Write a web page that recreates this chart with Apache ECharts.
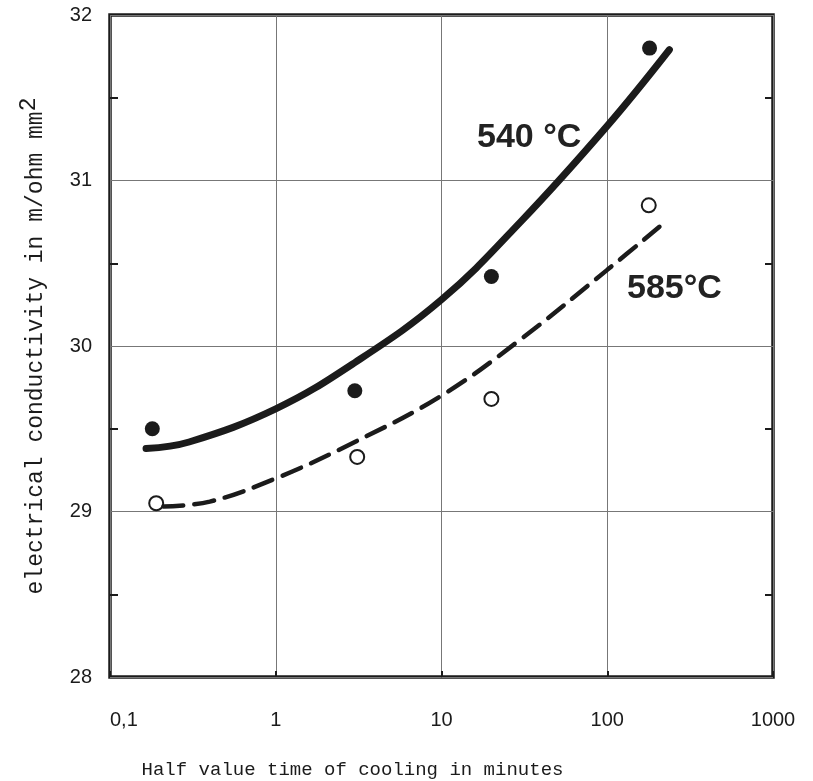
<!DOCTYPE html>
<html>
<head>
<meta charset="utf-8">
<script src="https://cdn.jsdelivr.net/npm/echarts@6/dist/echarts.min.js"></script>
<style>
  html, body { margin: 0; padding: 0; background: #fff; }
  #chart { width: 813px; height: 781px; }
</style>
</head>
<body>
<div id="chart"></div>
<script>
// measured points (half value time in minutes, conductivity)
const timesFilled = [0.18, 3, 20, 180];
const cond540 = [29.5, 29.73, 30.42, 31.8];
const timesOpen = [0.19, 3.1, 20, 178];
const cond585 = [29.05, 29.33, 29.68, 30.85];

// fitted curves as drawn
const curve540Times = [0.165, 0.3, 1, 3, 10, 30, 100, 237];
const curve540Values = [29.38, 29.42, 29.62, 29.9, 30.28, 30.75, 31.33, 31.79];
const curve585Times = [0.21, 0.4, 1, 3, 10, 30, 100, 224];
const curve585Values = [29.03, 29.06, 29.2, 29.42, 29.7, 30.04, 30.46, 30.75];

const yTicks = [28, 29, 30, 31, 32];

function pairs(xs, ys) {
  return xs.map((x, i) => [x, ys[i]]);
}

const chart = echarts.init(document.getElementById("chart"));
const ink = "#1b1b1b";

const option = {
  backgroundColor: "#fff",
  animation: false,
  grid: {
    left: 110, top: 15, right: 40, bottom: 104,
    outerBoundsMode: "none",
    show: true, borderColor: ink, borderWidth: 3.5
  },
  xAxis: {
    type: "log", logBase: 10, min: 0.1, max: 1000,
    axisLine: { show: false },
    axisTick: { show: true, inside: true, length: 6, lineStyle: { color: ink, width: 2 } },
    splitLine: { show: true, lineStyle: { color: "#777", width: 1 } },
    axisLabel: {
      margin: 33, fontFamily: "Liberation Sans", fontSize: 20, color: ink,
      alignMinLabel: "left",
      formatter: v => (v < 0.5 ? "0,1" : String(Math.round(v)))
    },
    name: "Half value time of cooling in minutes",
    nameLocation: "middle", nameGap: 83,
    nameTextStyle: { fontFamily: "Liberation Mono", fontSize: 19, color: ink, padding: [0, 178, 0, 0] }
  },
  yAxis: [
    {
      type: "value", min: yTicks[0], max: yTicks[yTicks.length - 1], interval: 1,
      axisLine: { show: false },
      axisTick: { show: false, inside: true, length: 8 },
      minorTick: { show: true, splitNumber: 2, length: 8, lineStyle: { color: ink, width: 2 } },
      splitLine: { show: true, lineStyle: { color: "#777", width: 1 } },
      axisLabel: { margin: 18, fontFamily: "Liberation Sans", fontSize: 20, color: ink },
      name: "electrical conductivity in m/ohm mm{s|2}",
      nameLocation: "middle", nameRotate: 90, nameGap: 56,
      nameTextStyle: {
        fontFamily: "Liberation Mono", fontSize: 23, color: ink,
        rich: { s: { fontFamily: "Liberation Mono", fontSize: 23, color: ink, padding: [0, 0, 14, 0] } }
      }
    },
    {
      type: "value", position: "right", min: yTicks[0], max: yTicks[yTicks.length - 1], interval: 1,
      axisLine: { show: false },
      axisTick: { show: false, inside: true, length: 8 },
      minorTick: { show: true, splitNumber: 2, length: 8, lineStyle: { color: ink, width: 2 } },
      splitLine: { show: false },
      axisLabel: { show: false }
    }
  ],
  graphic: [
    {
      type: "text", left: 477, top: 121,
      style: { text: "540 °C", font: "bold 34px 'Liberation Sans'", fill: "#222" }
    },
    {
      type: "text", left: 627, top: 272,
      style: { text: "585°C", font: "bold 34px 'Liberation Sans'", fill: "#222" }
    }
  ],
  series: [
    {
      name: "540 °C curve", type: "line", smooth: 0.4, symbol: "none",
      data: pairs(curve540Times, curve540Values),
      lineStyle: { color: ink, width: 7, cap: "round" }
    },
    {
      name: "585 °C curve", type: "line", smooth: 0.4, symbol: "none",
      data: pairs(curve585Times, curve585Values),
      lineStyle: { color: ink, width: 4.5, type: [20, 11], cap: "round" }
    },
    {
      name: "540 °C", type: "scatter", symbol: "circle", symbolSize: 15,
      data: pairs(timesFilled, cond540),
      itemStyle: { color: ink, opacity: 1 }
    },
    {
      name: "585 °C", type: "scatter", symbol: "circle", symbolSize: 14,
      data: pairs(timesOpen, cond585),
      itemStyle: { color: "#fff", borderColor: ink, borderWidth: 2, opacity: 1 }
    }
  ]
};

chart.setOption(option);
</script>
</body>
</html>
